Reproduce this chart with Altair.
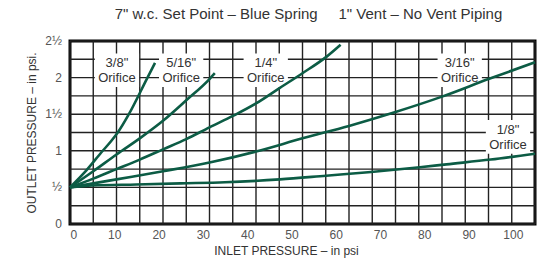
import altair as alt
import pandas as pd

# ---- data ----
orifices = ['3/8"', '5/16"', '1/4"', '3/16"', '1/8"']

x_38 = [0, 3.8, 7.1, 9.4, 10.9, 13.2, 17.5, 19.2]
y_38 = [0.5, 0.74, 0.98, 1.14, 1.26, 1.49, 2.0, 2.2]

x_516 = [0, 5.25, 10.5, 15.75, 21, 26.25, 31.5, 32.7]
y_516 = [0.5, 0.72, 0.95, 1.17, 1.41, 1.69, 1.98, 2.06]

x_14 = [0, 5.25, 10.5, 15.75, 21, 26.25, 31.5, 36.9, 42.1, 47.4, 52.5, 57.8, 61.1]
y_14 = [0.5, 0.62, 0.75, 0.88, 1.02, 1.16, 1.32, 1.48, 1.65, 1.86, 2.06, 2.28, 2.45]

x_316 = [0, 10.5, 21, 31.5, 42, 52.5, 63, 73.5, 84, 94.5, 105]
y_316 = [0.5, 0.61, 0.72, 0.84, 0.99, 1.17, 1.34, 1.53, 1.74, 1.98, 2.21]

x_18 = [0, 5, 15, 25, 35, 47.4, 57.8, 68, 79, 85, 95, 105]
y_18 = [0.5, 0.525, 0.54, 0.555, 0.57, 0.61, 0.66, 0.71, 0.775, 0.815, 0.88, 0.96]

# label anchors (data coordinates)
label_x = [10.6, 25.1, 44.2, 88.0, 98.9]
label_y = [2.1, 2.1, 2.1, 2.1, 1.19]

x_tick_values = [0, 10, 20, 30, 40, 50, 60, 70, 80, 90, 100]
y_tick_values = [0, 0.5, 1, 1.5, 2, 2.5]
y_tick_labels = ["0", "\u00bd", "1", "1\u00bd", "2", "2\u00bd"]
x_grid = [round(i * 5.25, 2) for i in range(21)]
y_grid = [round(i * 0.25, 2) for i in range(11)]

title_text = '7" w.c. Set Point \u2013 Blue Spring\u00a0\u00a0\u00a0\u00a0 1" Vent \u2013 No Vent Piping'

# ---- tables ----
series = [(orifices[0], x_38, y_38), (orifices[1], x_516, y_516), (orifices[2], x_14, y_14),
          (orifices[3], x_316, y_316), (orifices[4], x_18, y_18)]
rows = []
for name, xs_, ys_ in series:
    for i, (a, b) in enumerate(zip(xs_, ys_)):
        rows.append({"orifice": name, "x": a, "y": b, "order": i})
curves = pd.DataFrame(rows)

labels = pd.DataFrame({"orifice": orifices, "x": label_x, "y": label_y})
labels["x0"] = labels["x"] - 5.0
labels["x1"] = labels["x"] + 5.0
labels["y0"] = labels["y"] - 0.23
labels["y1"] = labels["y"] + 0.23

ylab = pd.DataFrame({"v": y_tick_values, "t": y_tick_labels})

FONT = "Liberation Sans"
GREEN = "#0c5c45"

xs = alt.Scale(domain=[0, 105], nice=False, zero=False)
ys = alt.Scale(domain=[0, 2.5], nice=False, zero=False)

vgrid = alt.Chart(pd.DataFrame({"g": x_grid})).mark_rule(color="#222", strokeWidth=1.4).encode(
    x=alt.X("g:Q", scale=xs, axis=alt.Axis(
        values=x_tick_values, grid=False, ticks=False, domain=False, format="d",
        labelFont=FONT, labelFontSize=12, labelColor="#555", labelPadding=5, labelOverlap=False,
        title="INLET PRESSURE \u2013 in psi", titleFont=FONT, titleFontSize=12,
        titleFontWeight="normal", titleColor="#333", titleX=216, titleY=30,
        titleBaseline="alphabetic", titleAlign="center")),
)
hgrid = alt.Chart(pd.DataFrame({"g": y_grid})).mark_rule(color="#222", strokeWidth=1.4).encode(
    y=alt.Y("g:Q", scale=ys, axis=alt.Axis(
        values=y_tick_values, grid=False, ticks=False, domain=False, labels=False,
        title="OUTLET PRESSURE \u2013 in psi.", titleFont=FONT, titleFontSize=12,
        titleFontWeight="normal", titleColor="#333", titlePadding=32)),
)

ytext = alt.Chart(ylab).mark_text(align="right", baseline="middle", font=FONT, fontSize=12,
                                  color="#555").encode(
    x=alt.value(-8), y=alt.Y("v:Q", scale=ys), text="t:N")

boxes = alt.Chart(labels).mark_rect(color="white").encode(
    x=alt.X("x0:Q", scale=xs), x2="x1:Q",
    y=alt.Y("y0:Q", scale=ys), y2="y1:Q",
)

lines = alt.Chart(curves).mark_line(strokeWidth=2.6, interpolate="monotone", color=GREEN).encode(
    x=alt.X("x:Q", scale=xs),
    y=alt.Y("y:Q", scale=ys),
    detail="orifice:N",
    order="order:Q",
)

txt_style = dict(font=FONT, fontSize=13, color="#333", baseline="middle", align="center")
txt1 = alt.Chart(labels).mark_text(dy=-7, **txt_style).encode(
    x=alt.X("x:Q", scale=xs), y=alt.Y("y:Q", scale=ys), text="orifice:N")
txt2 = alt.Chart(labels).mark_text(dy=8, **txt_style).encode(
    x=alt.X("x:Q", scale=xs), y=alt.Y("y:Q", scale=ys), text=alt.value("Orifice"))

chart = alt.layer(vgrid, hgrid, ytext, boxes, lines, txt1, txt2).properties(
    width=465, height=183,
    title=alt.TitleParams(title_text, font=FONT, fontSize=15, fontWeight="normal",
                          color="#333", anchor="middle", offset=13, dx=6),
    autosize="none",
    padding={"left": 62, "top": 33, "right": 4, "bottom": 34},
).configure_view(stroke="black", strokeWidth=3)

chart.save("out.html", embed_options={"renderer": "svg", "actions": False})
